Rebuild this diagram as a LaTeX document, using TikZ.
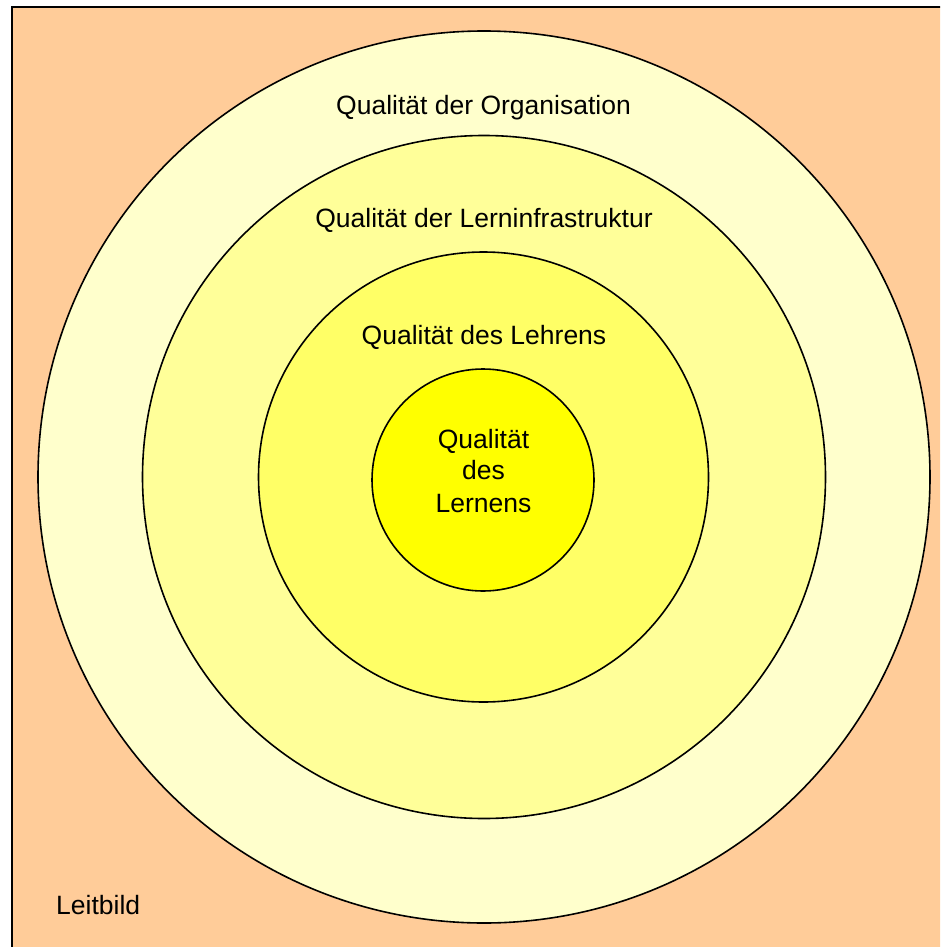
\documentclass[tikz,border=0pt]{standalone}
\usepackage{fontspec}
\setmainfont{Liberation Sans}
\definecolor{peach}{HTML}{FFCC99}
\definecolor{ringA}{HTML}{FFFFCC}
\definecolor{ringB}{HTML}{FFFF99}
\definecolor{ringC}{HTML}{FFFF66}
\definecolor{ringD}{HTML}{FFFF00}
\tikzset{
  ring/.style={circle, draw=black, line width=1.6pt, inner sep=0pt},
  lbl/.style={anchor=base, inner sep=0pt, font=\fontsize{26.5}{32}\selectfont, text=black}
}
\begin{document}
\begin{tikzpicture}[x=1pt,y=-1pt]
\useasboundingbox (0,0) rectangle (940,947);
\clip (0,0) rectangle (940,947);
\draw[fill=peach, line width=1.3pt] (12,7) rectangle (960,970);
\node[ring, fill=ringA, minimum size=892pt] (org) at (484,477) {};
\node[ring, fill=ringB, minimum size=683pt] (infra) at (484,477) {};
\node[ring, fill=ringC, minimum size=450pt] (lehr) at (483.5,477) {};
\node[ring, fill=ringD, minimum size=222pt] (lern) at (483,480) {};
\node[lbl] (torg) at (483.5,114) {Qualität der Organisation};
\node[lbl] (tinfra) at (484,227) {Qualität der Lerninfrastruktur};
\node[lbl] (tlehr) at (484,344) {Qualität des Lehrens};
\node[lbl] (tlern1) at (483.5,448) {Qualität};
\node[lbl] (tlern2) at (483.5,479) {des};
\node[lbl] (tlern3) at (483.5,512) {Lernens};
\node[lbl, anchor=base west] (leit) at (56,914) {Leitbild};
\end{tikzpicture}
\end{document}
